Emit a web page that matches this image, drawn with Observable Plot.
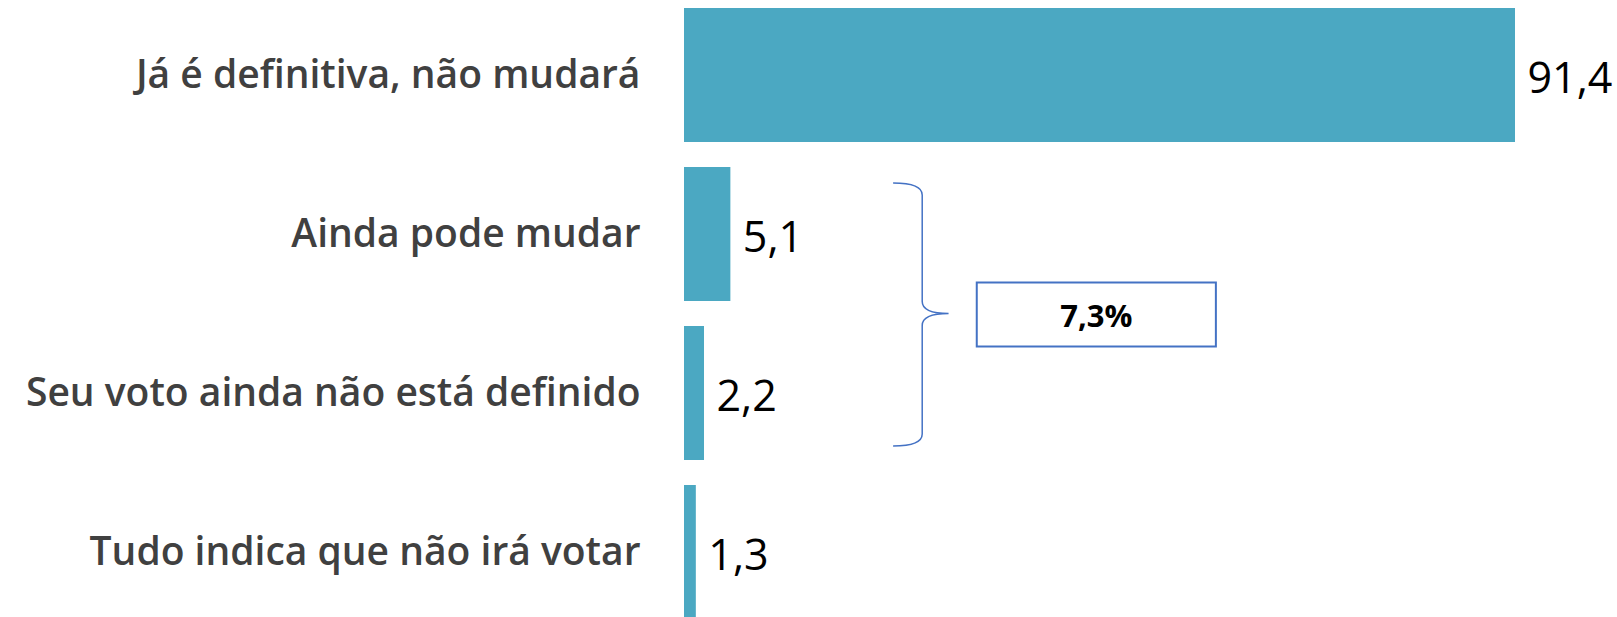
<!DOCTYPE html>
<html>
<head>
<meta charset="utf-8">
<script src="https://cdn.jsdelivr.net/npm/d3@7"></script>
<script src="https://cdn.jsdelivr.net/npm/@observablehq/plot@0.6"></script>
<style>
  html, body { margin: 0; padding: 0; background: #fff; overflow: hidden; }
  #chart svg { display: block; }
</style>
</head>
<body>
<div id="chart"></div>
<script>
// ---- data ----
const categories = [
  "Já é definitiva, não mudará",
  "Ainda pode mudar",
  "Seu voto ainda não está definido",
  "Tudo indica que não irá votar"
];
const values = [91.4, 5.1, 2.2, 1.3];
const valueLabels = ["91,4", "5,1", "2,2", "1,3"];
const groupCategories = ["Ainda pode mudar", "Seu voto ainda não está definido"];
const groupLabel = "7,3%";

// ---- layout constants (data units on x) ----
const bracketEnd = 23.0, bracketSpine = 26.2, bracketTip = 29.1;
const boxX1 = 32.2, boxX2 = 58.5;

const data = categories.map((c, i) => ({category: c, value: values[i], label: valueLabels[i]}));

const bracketMark = (index, scales) => {
  const {x, y} = scales;
  const bw = y.bandwidth ? y.bandwidth() : (y(groupCategories[1]) - y(groupCategories[0])) * 0.84;
  const top = y(groupCategories[0]) + 16;
  const bottom = y(groupCategories[1]) + bw - 14;
  const mid = (y(groupCategories[0]) + y(groupCategories[1]) + bw) / 2;
  const xe = x(bracketEnd), xs = x(bracketSpine), xt = x(bracketTip);
  const g = d3.create("svg:g");
  const r = 12;
  g.append("path")
    .attr("d", `M${xe},${top} Q${xs},${top} ${xs},${top + r} L${xs},${mid - r} Q${xs},${mid} ${xt},${mid} Q${xs},${mid} ${xs},${mid + r} L${xs},${bottom - r} Q${xs},${bottom} ${xe},${bottom}`)
    .attr("fill", "none").attr("stroke", "#4472C4").attr("stroke-width", 1.5);
  const bx1 = x(boxX1), bx2 = x(boxX2);
  const bh = 64;
  g.append("rect")
    .attr("x", bx1).attr("y", mid - bh / 2 + 1).attr("width", bx2 - bx1).attr("height", bh)
    .attr("fill", "#fff").attr("stroke", "#4472C4").attr("stroke-width", 2);
  g.append("text")
    .attr("x", (bx1 + bx2) / 2).attr("y", mid + 1)
    .attr("text-anchor", "middle").attr("dominant-baseline", "central")
    .attr("font-family", "'Open Sans', sans-serif").attr("font-weight", 700)
    .attr("font-size", 31).attr("fill", "#000")
    .text(groupLabel);
  return g.node();
};

const chart = Plot.plot({
  width: 1617,
  height: 617,
  marginLeft: 684,
  marginRight: 102,
  marginTop: 8,
  marginBottom: 0,
  style: {background: "#fff", overflow: "hidden"},
  x: {domain: [0, d3.max(values)], axis: null},
  y: {domain: categories, range: [8, 621], paddingInner: 0.16, paddingOuter: 0, align: 0, axis: null},
  marks: [
    Plot.barX(data, {x: "value", y: "category", fill: "#4BA8C2"}),
    Plot.text(data, {
      y: "category", text: "category", frameAnchor: "left", textAnchor: "end", dx: -44, dy: 0,
      fontSize: 39, fontWeight: 600, fill: "#404040", fontFamily: "'Open Sans', sans-serif"
    }),
    Plot.text(data, {
      x: "value", y: "category", text: "label", textAnchor: "start", dx: 12, dy: 4,
      fontSize: 43, fontWeight: 500, fill: "#000", fontFamily: "'Open Sans', sans-serif"
    }),
    bracketMark
  ]
});
document.getElementById("chart").append(chart);
</script>
</body>
</html>
